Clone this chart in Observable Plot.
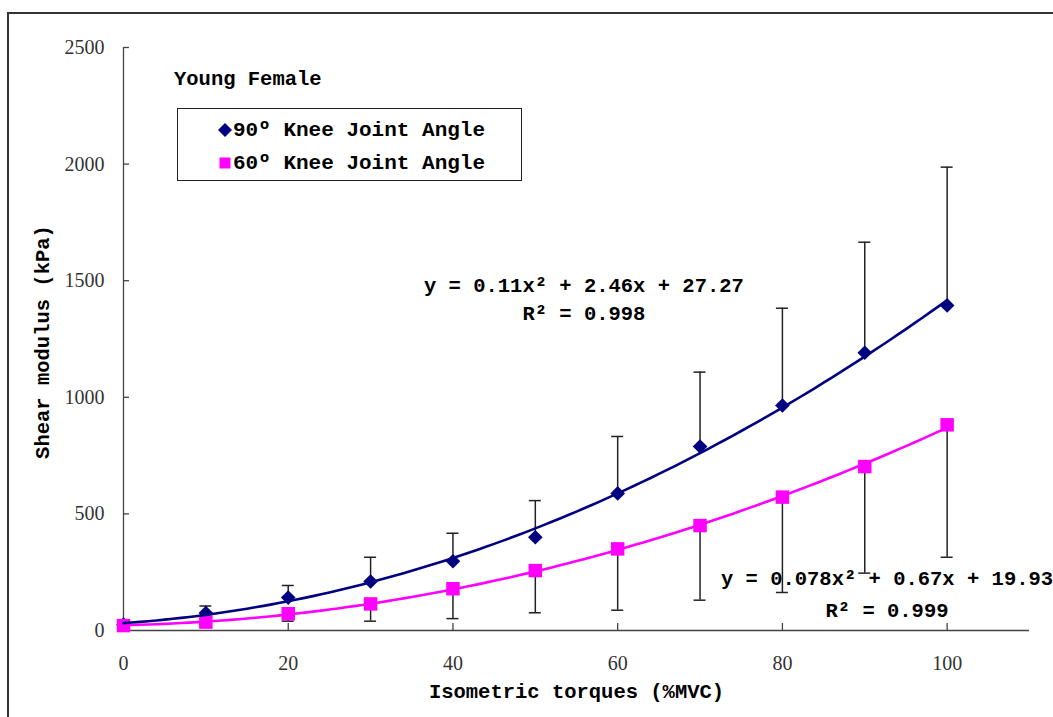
<!DOCTYPE html>
<html><head><meta charset="utf-8">
<script src="https://cdn.jsdelivr.net/npm/d3@7"></script>
<script src="https://cdn.jsdelivr.net/npm/@observablehq/plot@0.6"></script>
<style>
html,body{margin:0;padding:0;background:#fff;}
#wrap{position:relative;width:1053px;height:717px;overflow:hidden;background:#fff;}
#wrap > svg{position:absolute;left:0;top:0;}
#frame{position:absolute;left:7px;top:12px;width:1200px;height:900px;border-top:2px solid #333;border-left:2px solid #333;pointer-events:none;}
.lab{font-family:"Liberation Mono",monospace;font-weight:bold;font-size:20.5px;color:#000;position:absolute;white-space:nowrap;line-height:1;}
#legend{position:absolute;left:177px;top:108px;width:343px;height:71px;border:1px solid #222;background:#fff;}
.row{position:absolute;left:0;height:24px;display:flex;align-items:center;}
.row svg{display:block;margin-left:40px;margin-right:1px;}
.row span{font-family:"Liberation Mono",monospace;font-weight:bold;font-size:21px;color:#000;white-space:nowrap;}
</style></head>
<body><div id="wrap"></div>
<script>
// ---- data ----
const torque = [0, 10, 20, 30, 40, 50, 60, 70, 80, 90, 100];           // %MVC
const mean90 = [25, 75, 141, 210, 297, 400, 588, 789, 965, 1191, 1394]; // kPa, 90° knee
const sd90   = [8, 30, 52, 104, 120, 157, 244, 319, 417, 474, 593];     // plotted upward
const mean60 = [21, 36, 72, 114, 179, 257, 350, 450, 572, 703, 882];    // kPa, 60° knee
const sd60   = [5, 10, 32, 74, 128, 181, 263, 320, 409, 457, 568];      // plotted downward
const eqText90 = ["y = 0.11x² + 2.46x + 27.27", "R² = 0.998"];
const eqText60 = ["y = 0.078x² + 0.67x + 19.93", "R² = 0.999"];
const xTicks = [0, 20, 40, 60, 80, 100];
const yTicks = [0, 500, 1000, 1500, 2000, 2500];
const seriesNames = ["90º Knee Joint Angle", "60º Knee Joint Angle"];
const groupTitle = "Young Female";
const xLabel = "Isometric torques (%MVC)";
const yLabel = "Shear modulus (kPa)";

const BLUE = "#000080", PINK = "#FF00FF";
const rows = torque.map((t, i) => ({t, m90: mean90[i], s90: sd90[i], m60: mean60[i], s60: sd60[i]}));

// polynomial (order 2) least-squares trendline, as the spreadsheet does
function quadFit(xs, ys) {
  const S = [0,0,0,0,0], T = [0,0,0];
  xs.forEach((x, i) => { for (let k = 0; k < 5; k++) S[k] += x ** k; for (let k = 0; k < 3; k++) T[k] += ys[i] * x ** k; });
  const M = [[S[4], S[3], S[2]], [S[3], S[2], S[1]], [S[2], S[1], S[0]]];
  const det = m => m[0][0]*(m[1][1]*m[2][2]-m[1][2]*m[2][1]) - m[0][1]*(m[1][0]*m[2][2]-m[1][2]*m[2][0]) + m[0][2]*(m[1][0]*m[2][1]-m[1][1]*m[2][0]);
  const rhs = [T[2], T[1], T[0]];
  const D = det(M);
  return [0,1,2].map(c => det(M.map((r, i) => r.map((v, j) => j === c ? rhs[i] : v))) / D);
}
const fitX = d3.range(0, 100.001, 1);
const curve = (c) => fitX.map(x => ({x, y: c[0] * x * x + c[1] * x + c[2]}));
const c90 = quadFit(torque, mean90), c60 = quadFit(torque, mean60);

const labFont = {fontFamily: "Liberation Mono", fontWeight: "bold", fontSize: 20.5, fill: "#000"};

const chart = Plot.plot({
  width: 1053, height: 717,
  marginLeft: 123, marginRight: 24, marginTop: 47, marginBottom: 87,
  x: {domain: [0, 110]},
  y: {domain: [0, 2500]},
  style: {background: "transparent", fontFamily: "Liberation Serif", fontSize: "20px", color: "#333", overflow: "visible"},
  marks: [
    Plot.axisY({ticks: yTicks, tickFormat: d => String(d), tickSize: 0, tickPadding: 19, label: null, fontSize: 20, fontFamily: "Liberation Serif", fill: "#333"}),
    Plot.axisX({ticks: xTicks, tickFormat: d => String(d), tickSize: 0, tickPadding: 25, label: null, fontSize: 20, fontFamily: "Liberation Serif", fill: "#333"}),
    Plot.ruleX([0], {y1: 0, y2: 2500, stroke: "#444", strokeWidth: 1.3}),
    Plot.ruleY([0], {x1: 0, x2: 110, stroke: "#444", strokeWidth: 1.3}),
    Plot.ruleY(yTicks, {y: d => d, x1: 0, x2: 0, insetRight: -6, stroke: "#444", strokeWidth: 1.3}),
    Plot.ruleX(xTicks, {x: d => d, y1: 0, y2: 0, insetTop: -7, stroke: "#444", strokeWidth: 1.3}),
    // error bars
    Plot.ruleX(rows, {x: "t", y1: "m90", y2: d => d.m90 + d.s90, stroke: "#222", strokeWidth: 1.5}),
    Plot.ruleY(rows, {y: d => d.m90 + d.s90, x1: "t", x2: "t", insetLeft: -6, insetRight: -6, stroke: "#222", strokeWidth: 1.5}),
    Plot.ruleX(rows, {x: "t", y1: "m60", y2: d => d.m60 - d.s60, stroke: "#222", strokeWidth: 1.5}),
    Plot.ruleY(rows, {y: d => d.m60 - d.s60, x1: "t", x2: "t", insetLeft: -6, insetRight: -6, stroke: "#222", strokeWidth: 1.5}),
    // markers
    Plot.dot(rows, {x: "t", y: "m90", symbol: "diamond2", r: 6.6, fill: BLUE, stroke: null}),
    Plot.dot(rows, {x: "t", y: "m60", symbol: "square", r: 7.6, fill: PINK, stroke: null}),
    // trendlines
    Plot.line(curve(c60), {x: "x", y: "y", stroke: PINK, strokeWidth: 2.6}),
    Plot.line(curve(c90), {x: "x", y: "y", stroke: BLUE, strokeWidth: 2.6}),
    // axis titles
    Plot.text([yLabel], {frameAnchor: "left", dx: -81, dy: 3, rotate: -90, textAnchor: "middle", lineAnchor: "middle", ...labFont}),
    Plot.text([xLabel], {frameAnchor: "bottom", dy: 67, ...labFont}),
    // trendline equations
    Plot.text([eqText90[0]], {x: () => 55.9, y: () => 1479, textAnchor: "middle", ...labFont}),
    Plot.text([eqText90[1]], {x: () => 55.9, y: () => 1359, textAnchor: "middle", ...labFont}),
    Plot.text([eqText60[0]], {x: () => 92.7, y: () => 223, textAnchor: "middle", ...labFont}),
    Plot.text([eqText60[1]], {x: () => 92.7, y: () => 86, textAnchor: "middle", ...labFont})
  ]
});

const wrap = document.getElementById("wrap");
wrap.appendChild(chart);
const frame = document.createElement("div"); frame.id = "frame"; wrap.appendChild(frame);

const title = document.createElement("div");
title.className = "lab"; title.textContent = groupTitle;
title.style.left = "174px"; title.style.top = "70px";
wrap.appendChild(title);

const legend = document.createElement("div"); legend.id = "legend";
const sym = [
  `<svg width="14" height="14" viewBox="0 0 14 14"><path d="M7 0 L14 7 L7 14 L0 7 Z" fill="${BLUE}"/></svg>`,
  `<svg width="14" height="14" viewBox="0 0 14 14"><rect x="1.5" y="1.5" width="11" height="11" fill="${PINK}"/></svg>`
];
seriesNames.forEach((n, i) => {
  const r = document.createElement("div"); r.className = "row";
  r.style.top = (i === 0 ? 9 : 42) + "px";
  r.innerHTML = sym[i] + `<span>${n}</span>`;
  legend.appendChild(r);
});
wrap.appendChild(legend);
</script>
</body></html>
